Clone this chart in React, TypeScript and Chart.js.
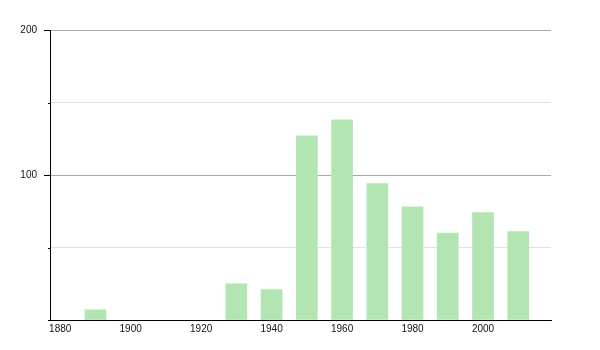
import React, { useEffect, useRef } from "react";
import { Chart, registerables } from "chart.js";

Chart.register(...registerables);

const years = [1890, 1930, 1940, 1950, 1960, 1970, 1980, 1990, 2000, 2010];
const values = [7, 25, 21, 127, 138, 94, 78, 60, 74, 61];
const xTicks = [1880, 1900, 1920, 1940, 1960, 1980, 2000];
const yLabelled = [100, 200];

const tickMarks = {
  id: "tickMarks",
  afterDraw(chart: any) {
    const y = chart.scales.y;
    const ctx = chart.ctx;
    ctx.save();
    ctx.strokeStyle = "#000";
    ctx.lineWidth = 1;
    y.ticks.forEach((t: any) => {
      const py = Math.round(y.getPixelForValue(t.value)) + 0.5;
      const len = yLabelled.includes(t.value) ? 6 : 2;
      ctx.beginPath();
      ctx.moveTo(y.right - len, py);
      ctx.lineTo(y.right, py);
      ctx.stroke();
    });
    ctx.restore();
  },
};

export default function App() {
  const ref = useRef<HTMLCanvasElement>(null);
  useEffect(() => {
    const chart = new Chart(ref.current!, {
      type: "bar",
      data: {
        datasets: [
          {
            data: years.map((x, i) => ({ x, y: values[i] })),
            backgroundColor: "#b3e5b2",
            barThickness: 21,
          },
        ],
      },
      options: {
        animation: false,
        responsive: false,
        maintainAspectRatio: false,
        layout: { padding: { top: 30, right: 49, left: 0, bottom: 0 } },
        plugins: { legend: { display: false }, tooltip: { enabled: false } },
        scales: {
          x: {
            type: "linear",
            offset: false,
            min: 1877.1,
            max: 2019.3,
            afterBuildTicks: (axis: any) => {
              axis.ticks = xTicks.map((v) => ({ value: v }));
            },
            afterFit: (axis: any) => {
              axis.height = 30;
            },
            grid: { display: false, drawTicks: false, offset: false },
            border: { display: true, color: "#000", width: 1 },
            ticks: {
              padding: 3,
              maxRotation: 0,
              autoSkip: false,
              color: "#111",
              font: { family: "Liberation Sans, Arial, sans-serif", size: 10 },
              callback: (v: any) => String(v),
            },
          },
          y: {
            min: 0,
            max: 200,
            afterFit: (axis: any) => {
              axis.width = 50;
            },
            grid: {
              drawTicks: false,
              color: (c: any) =>
                c.tick && yLabelled.includes(c.tick.value) ? "#aaaaaa" : "#e2e2e2",
            },
            border: { display: true, color: "#000", width: 1 },
            ticks: {
              stepSize: 50,
              padding: 13,
              color: "#111",
              font: { family: "Liberation Sans, Arial, sans-serif", size: 10 },
              callback: (v: any) => (yLabelled.includes(Number(v)) ? String(v) : ""),
            },
          },
        },
      },
      plugins: [tickMarks],
    });
    return () => chart.destroy();
  }, []);
  return (
    <div style={{ position: "fixed", left: 0, top: 0, width: 600, height: 350, background: "#fff" }}>
      <canvas ref={ref} width={600} height={350} style={{ width: 600, height: 350 }} />
    </div>
  );
}
